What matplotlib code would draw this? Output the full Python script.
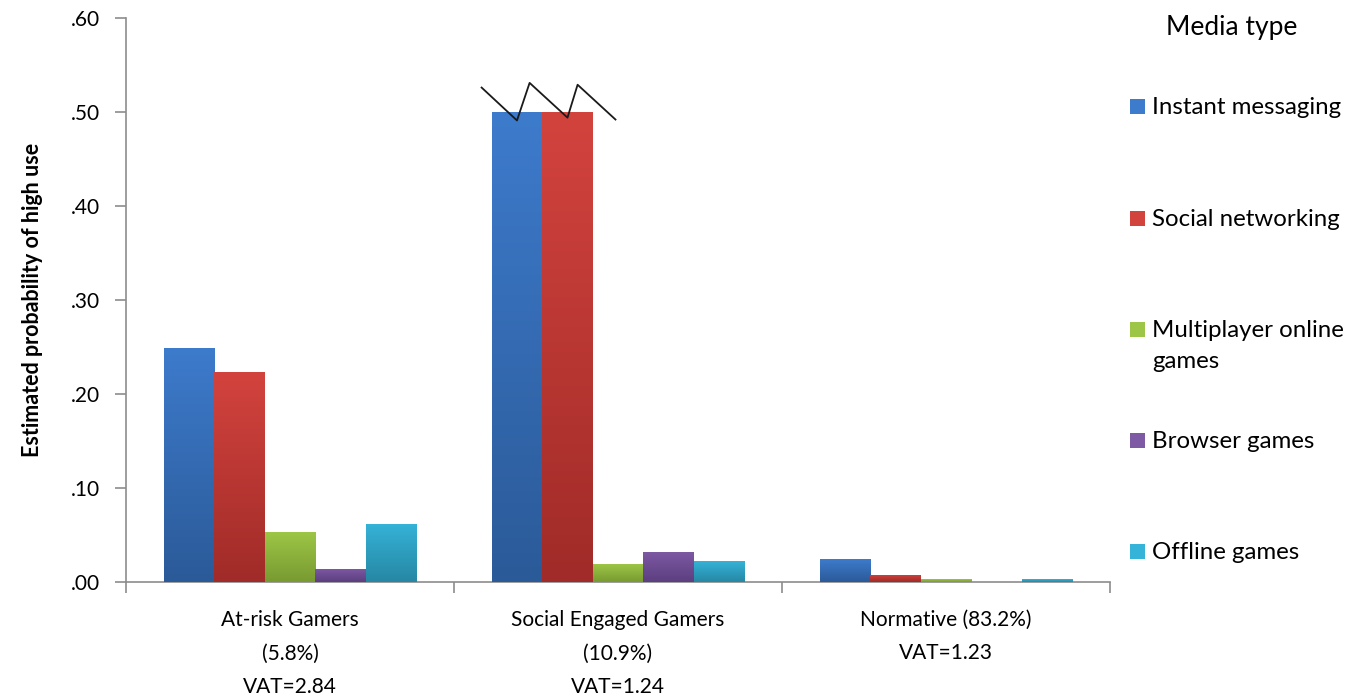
import matplotlib
matplotlib.use('Agg')
import matplotlib.pyplot as plt
import matplotlib.patches as patches
from matplotlib.colors import LinearSegmentedColormap
import numpy as np

plt.rcParams['font.family'] = ['Lato', 'DejaVu Sans']

# Datos
grupos = ['At-risk Gamers\n(5.8%)\nVAT=2.84',
          'Social Engaged Gamers\n(10.9%)\nVAT=1.24',
          'Normative (83.2%)\nVAT=1.23']
medios = ['Instant messaging', 'Social networking',
          'Multiplayer online\ngames', 'Browser games', 'Offline games']
instant = [0.249, 0.50, 0.024]
social = [0.223, 0.50, 0.0075]
multiplayer = [0.053, 0.019, 0.003]
browser = [0.014, 0.032, 0.0]
offline = [0.062, 0.022, 0.003]
valores = [instant, social, multiplayer, browser, offline]

# colores (arriba, abajo) para el degradado
colores = [('#3d7bcc', '#2b5a98'), ('#d3433e', '#a02b28'),
           ('#9dc646', '#789a31'), ('#7e59a4', '#5c3f7f'),
           ('#35b3d8', '#2687a3')]
gris = '#8c8c8c'

fig = plt.figure(figsize=(13.65, 6.98), dpi=100)
ax = fig.add_axes([126/1365, 116/698, 984/1365, 564/698])

ancho = 0.154
x = np.arange(len(grupos))
for i, (vals, (c1, c2)) in enumerate(zip(valores, colores)):
    cmap = LinearSegmentedColormap.from_list('g%d' % i, [c2, c1])
    pos = x + (i - 2) * ancho
    bars = ax.bar(pos, vals, ancho, color=c1, linewidth=0, zorder=2)
    grad = np.linspace(0, 1, 256).reshape(-1, 1)
    for b in bars:
        if b.get_height() <= 0:
            continue
        x0, y0 = b.get_x(), b.get_y()
        im = ax.imshow(grad, cmap=cmap, origin='lower', aspect='auto',
                       extent=[x0, x0 + b.get_width(), y0, y0 + b.get_height()],
                       zorder=3)
        im.set_clip_path(b)

ax.set_xlim(-0.5, len(grupos) - 0.5)
ax.set_ylim(0, 0.6)

# marca de corte sobre las barras de 0.50
xb = x[1] - 2 * ancho
zz_x = [xb - 0.70 * ancho, xb + 0.0 * ancho, xb + 0.25 * ancho,
        xb + 1.0 * ancho, xb + 1.2 * ancho, xb + 1.95 * ancho]
zz_y = [0.526, 0.491, 0.531, 0.494, 0.529, 0.492]
ax.plot(zz_x, zz_y, color='#1a1a1a', lw=1.3, zorder=5, clip_on=False)

# ejes
for s in ['top', 'right']:
    ax.spines[s].set_visible(False)
for s in ['left', 'bottom']:
    ax.spines[s].set_color(gris)
    ax.spines[s].set_linewidth(1.2)

ax.set_yticks(np.arange(0, 0.61, 0.1))
ax.set_yticklabels(['.00', '.10', '.20', '.30', '.40', '.50', '.60'])
ax.tick_params(axis='y', length=8, width=1.2, color=gris, labelsize=15, pad=11)

ax.set_xticks(np.arange(-0.5, len(grupos), 1.0))
ax.set_xticklabels([])
ax.set_xticks(x, minor=True)
ax.set_xticklabels(grupos, minor=True)
ax.tick_params(axis='x', which='major', length=8, width=1.2, color=gris)
ax.tick_params(axis='x', which='minor', length=0, labelsize=15, pad=20)
for t in ax.get_xticklabels(minor=True):
    t.set_linespacing(1.85)

ax.set_ylabel('Estimated probability of high use', fontsize=15.5,
              fontweight='bold', labelpad=20)

# leyenda manual
fig.text(1232/1365, 1 - 28/698, 'Media type', fontsize=19,
         ha='center', va='center')
leyenda_y = [107, 219, 330, 441, 552]
for nombre, (c1, c2), yy in zip(medios, colores, leyenda_y):
    fig.patches.append(patches.Rectangle((1130/1365, 1 - (yy + 7)/698),
                                         15/1365, 15/698, facecolor=c1,
                                         edgecolor='none',
                                         transform=fig.transFigure))
    fig.text(1152/1365, 1 - (yy - 10)/698, nombre, fontsize=17.3,
             ha='left', va='top', linespacing=1.6)

fig.savefig('out.png', dpi=100)
